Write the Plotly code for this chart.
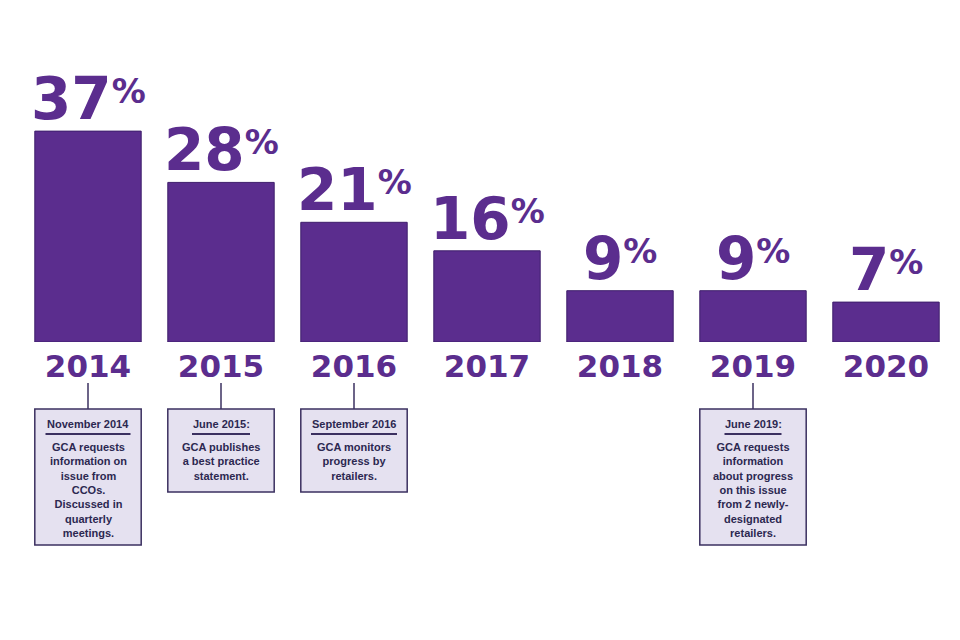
import plotly.graph_objects as go

# ---- data ----
years = ["2014", "2015", "2016", "2017", "2018", "2019", "2020"]
values = [37, 28, 21, 16, 9, 9, 7]

note_years = ["2014", "2015", "2016", "2019"]
note_titles = ["November 2014", "June 2015:", "September 2016", "June 2019:"]
note_bodies = [
    ["GCA requests", "information on", "issue from", "CCOs.", "Discussed in", "quarterly", "meetings."],
    ["GCA publishes", "a best practice", "statement."],
    ["GCA monitors", "progress by", "retailers."],
    ["GCA requests", "information", "about progress", "on this issue", "from 2 newly-", "designated", "retailers."],
]
# underline widths (px) for each note title
note_underline_px = [85, 58, 86, 57]

# ---- styles ----
OFF = 8                 # page body margin
W, H = 960 - OFF, 640 - OFF
PURPLE = "#5b2d8e"
PURPLE_EDGE = "#3f1f6c"
BOX_FILL = "#e5e1f0"
BOX_EDGE = "#3b3060"
TEXT_DARK = "#2c2850"
STEP = 133.0                  # px between categories
FIRST_CENTER = 88.0 - OFF     # px of first category centre (figure coords)
BAR_BOTTOM_PX = 342.0

def py(px):
    """screen pixel y -> paper y"""
    return 1 - (px - OFF) / H

def dx(pxw):
    return pxw / STEP

fig = go.Figure()
fig.add_trace(go.Bar(
    x=years, y=values, width=0.8,
    marker=dict(color=PURPLE, line=dict(color=PURPLE_EDGE, width=1)),
    hoverinfo="skip",
))

annotations = []
for i, v in enumerate(values):
    annotations.append(dict(
        x=i, y=v, xref="x", yref="y", xanchor="center", yanchor="bottom",
        yshift=-4, showarrow=False,
        text=f"{v}<span style='font-size:34px;baseline-shift:16px'>%</span>",
        font=dict(family="DejaVu Sans", size=58, color=PURPLE, weight="bold"),
    ))

shapes = []
BOX_TOP = 409.0
for yr, title, body, ul in zip(note_years, note_titles, note_bodies, note_underline_px):
    i = years.index(yr)
    box_bottom = BOX_TOP + 43 + 13.3 * len(body)
    shapes.append(dict(type="line", xref="x", yref="paper", x0=i, x1=i,
                       y0=py(383), y1=py(BOX_TOP), line=dict(color=BOX_EDGE, width=1.5)))
    shapes.append(dict(type="rect", xref="x", yref="paper",
                       x0=i - 0.4, x1=i + 0.4, y0=py(box_bottom), y1=py(BOX_TOP),
                       fillcolor=BOX_FILL, line=dict(color=BOX_EDGE, width=1.5)))
    shapes.append(dict(type="line", xref="x", yref="paper",
                       x0=i - dx(ul) / 2, x1=i + dx(ul) / 2, y0=py(434), y1=py(434),
                       line=dict(color=BOX_EDGE, width=2)))
    annotations.append(dict(
        x=i, y=py(424), xref="x", yref="paper", xanchor="center", yanchor="middle",
        showarrow=False, text=title,
        font=dict(family="Liberation Sans", size=11, color=TEXT_DARK, weight="bold"),
    ))
    annotations.append(dict(
        x=i, y=py(439), xref="x", yref="paper", xanchor="center", yanchor="top",
        showarrow=False, text="<br>".join(body), align="center",
        font=dict(family="Liberation Sans", size=11, color=TEXT_DARK, weight="bold"),
    ))

n = len(years)
fig.update_layout(
    width=W, height=H, autosize=False,
    margin=dict(l=0, r=0, t=0, b=0),
    paper_bgcolor="white", plot_bgcolor="white",
    showlegend=False,
    xaxis=dict(type="category",
               range=[-FIRST_CENTER / STEP, (n - 1) + (W - FIRST_CENTER - (n - 1) * STEP) / STEP],
               showgrid=False, zeroline=False, showline=False, ticks="",
               tickfont=dict(family="DejaVu Sans", size=31, color=PURPLE, weight="bold"),
               ticklabelstandoff=3, fixedrange=True),
    yaxis=dict(range=[0, 58.6], domain=[py(BAR_BOTTOM_PX), 1], visible=False, fixedrange=True),
    annotations=annotations, shapes=shapes,
)

fig.write_html("out.html")
